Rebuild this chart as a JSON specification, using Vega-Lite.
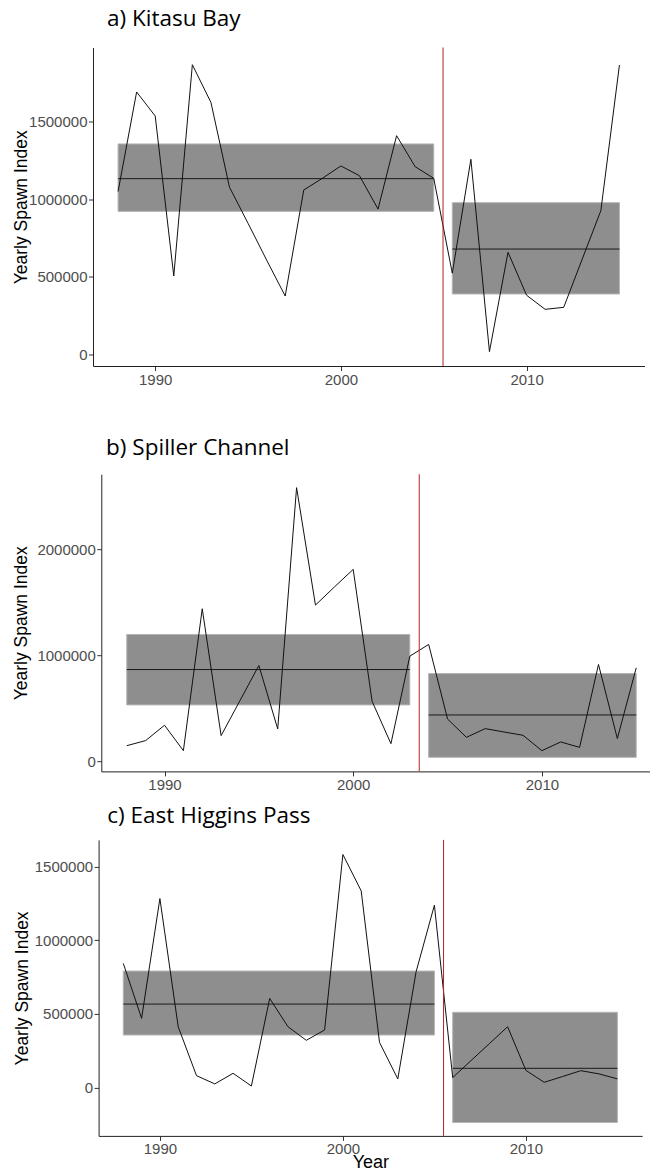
{
  "$schema": "https://vega.github.io/schema/vega-lite/v6.json",
  "background": "white",
  "padding": {"left": 12, "top": 7.5, "right": 0, "bottom": 0},
  "config": {
    "view": {"stroke": null},
    "axis": {
      "grid": false,
      "domainColor": "#222222",
      "domainWidth": 1,
      "tickColor": "#333333",
      "tickSize": 4.5,
      "tickWidth": 1,
      "labelFont": "Liberation Sans",
      "labelFontSize": 15,
      "labelColor": "#4d4d4d",
      "labelPadding": 1.5,
      "titleFont": "Liberation Sans",
      "titleFontSize": 17.5,
      "titleFontWeight": "normal",
      "titleColor": "#000000"
    },
    "title": {
      "font": "Open Sans",
      "fontSize": 22.5,
      "fontWeight": "normal",
      "color": "#000000",
      "anchor": "start",
      "frame": "group"
    }
  },
  "datasets": {
    "spawn": [
      {"site": "Kitasu Bay", "year": 1988, "index": 1050000},
      {"site": "Kitasu Bay", "year": 1989, "index": 1692000},
      {"site": "Kitasu Bay", "year": 1990, "index": 1537000},
      {"site": "Kitasu Bay", "year": 1991, "index": 505000},
      {"site": "Kitasu Bay", "year": 1992, "index": 1868000},
      {"site": "Kitasu Bay", "year": 1993, "index": 1625000},
      {"site": "Kitasu Bay", "year": 1994, "index": 1078000},
      {"site": "Kitasu Bay", "year": 1995, "index": 845000},
      {"site": "Kitasu Bay", "year": 1996, "index": 608000},
      {"site": "Kitasu Bay", "year": 1997, "index": 376000},
      {"site": "Kitasu Bay", "year": 1998, "index": 1060000},
      {"site": "Kitasu Bay", "year": 1999, "index": 1135000},
      {"site": "Kitasu Bay", "year": 2000, "index": 1215000},
      {"site": "Kitasu Bay", "year": 2001, "index": 1152000},
      {"site": "Kitasu Bay", "year": 2002, "index": 937000},
      {"site": "Kitasu Bay", "year": 2003, "index": 1410000},
      {"site": "Kitasu Bay", "year": 2004, "index": 1210000},
      {"site": "Kitasu Bay", "year": 2005, "index": 1135000},
      {"site": "Kitasu Bay", "year": 2006, "index": 523000},
      {"site": "Kitasu Bay", "year": 2007, "index": 1258000},
      {"site": "Kitasu Bay", "year": 2008, "index": 17000},
      {"site": "Kitasu Bay", "year": 2009, "index": 658000},
      {"site": "Kitasu Bay", "year": 2010, "index": 381000},
      {"site": "Kitasu Bay", "year": 2011, "index": 290000},
      {"site": "Kitasu Bay", "year": 2012, "index": 303000},
      {"site": "Kitasu Bay", "year": 2013, "index": 615000},
      {"site": "Kitasu Bay", "year": 2014, "index": 927000},
      {"site": "Kitasu Bay", "year": 2015, "index": 1866000},
      {"site": "Spiller Channel", "year": 1988, "index": 148000},
      {"site": "Spiller Channel", "year": 1989, "index": 196000},
      {"site": "Spiller Channel", "year": 1990, "index": 341000},
      {"site": "Spiller Channel", "year": 1991, "index": 101000},
      {"site": "Spiller Channel", "year": 1992, "index": 1441000},
      {"site": "Spiller Channel", "year": 1993, "index": 243000},
      {"site": "Spiller Channel", "year": 1994, "index": 574000},
      {"site": "Spiller Channel", "year": 1995, "index": 905000},
      {"site": "Spiller Channel", "year": 1996, "index": 306000},
      {"site": "Spiller Channel", "year": 1997, "index": 2585000},
      {"site": "Spiller Channel", "year": 1998, "index": 1476000},
      {"site": "Spiller Channel", "year": 1999, "index": 1646000},
      {"site": "Spiller Channel", "year": 2000, "index": 1813000},
      {"site": "Spiller Channel", "year": 2001, "index": 568000},
      {"site": "Spiller Channel", "year": 2002, "index": 167000},
      {"site": "Spiller Channel", "year": 2003, "index": 993000},
      {"site": "Spiller Channel", "year": 2004, "index": 1104000},
      {"site": "Spiller Channel", "year": 2005, "index": 400000},
      {"site": "Spiller Channel", "year": 2006, "index": 227000},
      {"site": "Spiller Channel", "year": 2007, "index": 309000},
      {"site": "Spiller Channel", "year": 2008, "index": 277000},
      {"site": "Spiller Channel", "year": 2009, "index": 246000},
      {"site": "Spiller Channel", "year": 2010, "index": 101000},
      {"site": "Spiller Channel", "year": 2011, "index": 183000},
      {"site": "Spiller Channel", "year": 2012, "index": 132000},
      {"site": "Spiller Channel", "year": 2013, "index": 915000},
      {"site": "Spiller Channel", "year": 2014, "index": 215000},
      {"site": "Spiller Channel", "year": 2015, "index": 883000},
      {"site": "East Higgins Pass", "year": 1988, "index": 843000},
      {"site": "East Higgins Pass", "year": 1989, "index": 470000},
      {"site": "East Higgins Pass", "year": 1990, "index": 1283000},
      {"site": "East Higgins Pass", "year": 1991, "index": 413000},
      {"site": "East Higgins Pass", "year": 1992, "index": 81000},
      {"site": "East Higgins Pass", "year": 1993, "index": 25000},
      {"site": "East Higgins Pass", "year": 1994, "index": 97000},
      {"site": "East Higgins Pass", "year": 1995, "index": 11000},
      {"site": "East Higgins Pass", "year": 1996, "index": 605000},
      {"site": "East Higgins Pass", "year": 1997, "index": 413000},
      {"site": "East Higgins Pass", "year": 1998, "index": 321000},
      {"site": "East Higgins Pass", "year": 1999, "index": 391000},
      {"site": "East Higgins Pass", "year": 2000, "index": 1582000},
      {"site": "East Higgins Pass", "year": 2001, "index": 1335000},
      {"site": "East Higgins Pass", "year": 2002, "index": 307000},
      {"site": "East Higgins Pass", "year": 2003, "index": 59000},
      {"site": "East Higgins Pass", "year": 2004, "index": 786000},
      {"site": "East Higgins Pass", "year": 2005, "index": 1238000},
      {"site": "East Higgins Pass", "year": 2006, "index": 68000},
      {"site": "East Higgins Pass", "year": 2007, "index": 183000},
      {"site": "East Higgins Pass", "year": 2008, "index": 298000},
      {"site": "East Higgins Pass", "year": 2009, "index": 413000},
      {"site": "East Higgins Pass", "year": 2010, "index": 117000},
      {"site": "East Higgins Pass", "year": 2011, "index": 36000},
      {"site": "East Higgins Pass", "year": 2012, "index": 75000},
      {"site": "East Higgins Pass", "year": 2013, "index": 115000},
      {"site": "East Higgins Pass", "year": 2014, "index": 93000},
      {"site": "East Higgins Pass", "year": 2015, "index": 59000}
    ],
    "periods": [
      {"site": "Kitasu Bay", "start": 1988, "end": 2005, "lower": 922000, "mean": 1133000, "upper": 1357000},
      {"site": "Kitasu Bay", "start": 2006, "end": 2015, "lower": 389000, "mean": 679000, "upper": 978000},
      {"site": "Spiller Channel", "start": 1988, "end": 2003, "lower": 533000, "mean": 867000, "upper": 1198000},
      {"site": "Spiller Channel", "start": 2004, "end": 2015, "lower": 38000, "mean": 438000, "upper": 829000},
      {"site": "East Higgins Pass", "start": 1988, "end": 2005, "lower": 357000, "mean": 567000, "upper": 791000},
      {"site": "East Higgins Pass", "start": 2006, "end": 2015, "lower": -237000, "mean": 131000, "upper": 511000}
    ],
    "breaks": [
      {"site": "Kitasu Bay", "year": 2005.5},
      {"site": "Spiller Channel", "year": 2003.5},
      {"site": "East Higgins Pass", "year": 2005.5}
    ]
  },
  "columns": 1,
  "spacing": 48.7,
  "concat": [
    {
      "title": {"text": "a) Kitasu Bay", "dx": 14, "offset": 16.5},
      "width": 551.5,
      "height": 318.5,
      "layer": [
        {
          "data": {"name": "periods"},
          "transform": [{"filter": "datum.site === 'Kitasu Bay'"}],
          "mark": {"type": "rect", "fill": "#8e8e8e", "stroke": "#b4b4b4", "strokeWidth": 1},
          "encoding": {
            "x": {"field": "start", "type": "quantitative", "scale": {"domain": [1986.65, 2016.35], "nice": false, "zero": false}, "axis": {"values": [1990, 2000, 2010], "format": "d", "title": null}},
            "x2": {"field": "end"},
            "y": {"field": "lower", "type": "quantitative", "scale": {"domain": [-75500, 1979000], "nice": false, "zero": false}, "axis": {"values": [0, 500000, 1000000, 1500000], "format": "d", "title": "Yearly Spawn Index", "titlePadding": -2.3}},
            "y2": {"field": "upper"}
          }
        },
        {
          "data": {"name": "periods"},
          "transform": [{"filter": "datum.site === 'Kitasu Bay'"}],
          "mark": {"type": "rule", "color": "#1a1a1a", "strokeWidth": 1},
          "encoding": {
            "x": {"field": "start", "type": "quantitative"},
            "x2": {"field": "end"},
            "y": {"field": "mean", "type": "quantitative"}
          }
        },
        {
          "data": {"name": "spawn"},
          "transform": [{"filter": "datum.site === 'Kitasu Bay'"}],
          "mark": {"type": "line", "color": "#111111", "strokeWidth": 1},
          "encoding": {
            "x": {"field": "year", "type": "quantitative"},
            "y": {"field": "index", "type": "quantitative"}
          }
        },
        {
          "data": {"name": "breaks"},
          "transform": [{"filter": "datum.site === 'Kitasu Bay'"}],
          "mark": {"type": "rule", "color": "#b22222", "strokeWidth": 1},
          "encoding": {
            "x": {"field": "year", "type": "quantitative"}
          }
        }
      ]
    },
    {
      "columns": 1,
      "spacing": 10.7,
      "concat": [
        {
          "title": {"text": "b) Spiller Channel", "dx": 13.1, "offset": 14.6},
          "width": 568.7,
          "height": 297.2,
          "layer": [
            {
              "data": {"name": "periods"},
              "transform": [{"filter": "datum.site === 'Spiller Channel'"}],
              "mark": {"type": "rect", "fill": "#8e8e8e", "stroke": "#b4b4b4", "strokeWidth": 1},
              "encoding": {
                "x": {"field": "start", "type": "quantitative", "scale": {"domain": [1986.65, 2016.35], "range": [8.3, 568.7], "nice": false, "zero": false}, "axis": {"values": [1990, 2000, 2010], "format": "d", "title": null}},
                "x2": {"field": "end"},
                "y": {"field": "lower", "type": "quantitative", "scale": {"domain": [-95000, 2712000], "nice": false, "zero": false}, "axis": {"values": [0, 1000000, 2000000], "format": "d", "title": "Yearly Spawn Index", "titlePadding": 6, "offset": -8.3}},
                "y2": {"field": "upper"}
              }
            },
            {
              "data": {"name": "periods"},
              "transform": [{"filter": "datum.site === 'Spiller Channel'"}],
              "mark": {"type": "rule", "color": "#1a1a1a", "strokeWidth": 1},
              "encoding": {
                "x": {"field": "start", "type": "quantitative"},
                "x2": {"field": "end"},
                "y": {"field": "mean", "type": "quantitative"}
              }
            },
            {
              "data": {"name": "spawn"},
              "transform": [{"filter": "datum.site === 'Spiller Channel'"}],
              "mark": {"type": "line", "color": "#111111", "strokeWidth": 1},
              "encoding": {
                "x": {"field": "year", "type": "quantitative"},
                "y": {"field": "index", "type": "quantitative"}
              }
            },
            {
              "data": {"name": "breaks"},
              "transform": [{"filter": "datum.site === 'Spiller Channel'"}],
              "mark": {"type": "rule", "color": "#b22222", "strokeWidth": 1},
              "encoding": {
                "x": {"field": "year", "type": "quantitative"}
              }
            }
          ]
        },
        {
          "title": {"text": "c) East Higgins Pass", "dx": 14.3, "offset": 12.1},
          "width": 549.1,
          "height": 296,
          "layer": [
            {
              "data": {"name": "periods"},
              "transform": [{"filter": "datum.site === 'East Higgins Pass'"}],
              "mark": {"type": "rect", "fill": "#8e8e8e", "stroke": "#b4b4b4", "strokeWidth": 1},
              "encoding": {
                "x": {"field": "start", "type": "quantitative", "scale": {"domain": [1986.65, 2016.35], "range": [5.6, 549.1], "nice": false, "zero": false}, "axis": {"values": [1990, 2000, 2010], "format": "d", "title": "Year", "titleFontSize": 18, "titlePadding": -3}},
                "x2": {"field": "end"},
                "y": {"field": "lower", "type": "quantitative", "scale": {"domain": [-327800, 1681200], "nice": false, "zero": false}, "axis": {"values": [0, 500000, 1000000, 1500000], "format": "d", "title": "Yearly Spawn Index", "titlePadding": 3.2, "offset": -5.6}},
                "y2": {"field": "upper"}
              }
            },
            {
              "data": {"name": "periods"},
              "transform": [{"filter": "datum.site === 'East Higgins Pass'"}],
              "mark": {"type": "rule", "color": "#1a1a1a", "strokeWidth": 1},
              "encoding": {
                "x": {"field": "start", "type": "quantitative"},
                "x2": {"field": "end"},
                "y": {"field": "mean", "type": "quantitative"}
              }
            },
            {
              "data": {"name": "spawn"},
              "transform": [{"filter": "datum.site === 'East Higgins Pass'"}],
              "mark": {"type": "line", "color": "#111111", "strokeWidth": 1},
              "encoding": {
                "x": {"field": "year", "type": "quantitative"},
                "y": {"field": "index", "type": "quantitative"}
              }
            },
            {
              "data": {"name": "breaks"},
              "transform": [{"filter": "datum.site === 'East Higgins Pass'"}],
              "mark": {"type": "rule", "color": "#b22222", "strokeWidth": 1},
              "encoding": {
                "x": {"field": "year", "type": "quantitative"}
              }
            }
          ]
        }
      ]
    }
  ]
}
